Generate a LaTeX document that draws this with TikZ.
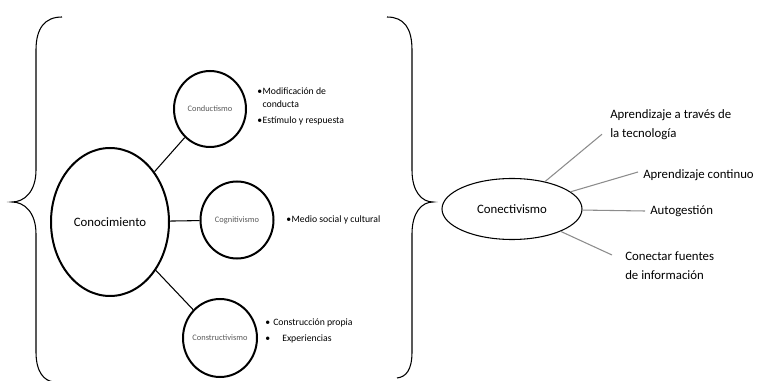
\documentclass[tikz,border=0pt]{standalone}
\usepackage{fontspec}
\setmainfont{Carlito}
\usetikzlibrary{positioning, shapes.geometric, calc}

\begin{document}
\begin{tikzpicture}[
    x=0.75pt, y=-0.75pt,
    % ====================
    % ESTILOS DE NODOS
    % ====================
    teoria/.style={
        ellipse, draw=black, line width=1.5pt,
        inner sep=0pt, inner xsep=-2pt,
        font=\fontsize{6.3}{7.5}\selectfont, text=black!65
    },
    central/.style={
        ellipse, draw=black, line width=1.5pt,
        inner sep=0pt, font=\fontsize{9.6}{11}\selectfont
    },
    puntos/.style={
        inner sep=0pt, align=left,
        font=\fontsize{7.3}{9.75}\selectfont
    },
    idea/.style={
        inner sep=0pt, align=left,
        font=\fontsize{9.6}{14.25}\selectfont
    },
    llave/.style={
        draw=black, line width=0.8pt
    },
    enlace/.style={
        draw=black, line width=0.8pt
    },
    rayo/.style={
        draw=black!45, line width=0.8pt
    }
]

\useasboundingbox (0,0) rectangle (758,381);

% ====================
% LLAVES
% ====================
\draw[llave] (62,17) .. controls (45,17) and (36,28) .. (36,50) -- (36,170)
    .. controls (36,192) and (24,202) .. (12,202)
    .. controls (24,202) and (36,212) .. (36,234) -- (36,352)
    .. controls (36,372) and (44,381) .. (54,382);
\draw[llave] (387,17) .. controls (404,17) and (412,28) .. (412,50) -- (412,170)
    .. controls (412,192) and (422,202) .. (433,202)
    .. controls (422,202) and (412,212) .. (412,234) -- (412,352)
    .. controls (412,370) and (406,377) .. (397,378);

% ====================
% NODOS - TEORIAS
% ====================
\node[central, minimum width=88.5pt, minimum height=111pt] (conoc) at (110,222) {Conocimiento};
\node[teoria, minimum width=54pt, minimum height=57pt] (conduc) at (210,109) {Conductismo};
\node[teoria, minimum width=54.75pt, minimum height=57.75pt] (cognit) at (237,220) {Cognitivismo};
\node[teoria, minimum width=55.5pt, minimum height=58.5pt] (constr) at (220,338) {Constructivismo};

% Caracteristicas
\node[puntos, anchor=north west] (conduc_t) at (257,87)
    {\makebox[4pt][l]{\textbullet}Modificación de\\\hspace{4pt}conducta\\[2.25pt]\makebox[4pt][l]{\textbullet}Estímulo y respuesta};
\node[puntos, anchor=west] (cognit_t) at (286,220)
    {\makebox[4pt][l]{\textbullet}Medio social y cultural};
\node[puntos, anchor=north west, font=\fontsize{7.3}{12}\selectfont] (constr_t) at (265,319)
    {\makebox[6pt][l]{\textbullet}Construcción propia\\\makebox[12.75pt][l]{\textbullet}Experiencias};

% ====================
% NODOS - CONECTIVISMO
% ====================
\node[central, line width=0.8pt, minimum width=105pt, minimum height=45.75pt] (conect) at (512,209) {Conectivismo};

\node[idea, anchor=north west] (tecno) at (610,109.6) {Aprendizaje a través de\\la tecnología};
\node[idea, anchor=west] (contin) at (643,175) {Aprendizaje continuo};
\node[idea, anchor=west] (autog) at (650,211) {Autogestión};
\node[idea, anchor=north west] (fuentes) at (625,251.6) {Conectar fuentes\\de información};

% ====================
% RUTAS
% ====================
\draw[enlace] (conoc) -- (conduc);
\draw[enlace] (conoc) -- (cognit);
\draw[enlace] (conoc) -- (constr);

\draw[rayo] (conect) -- ($(tecno.south west)+(-8,-6)$);
\draw[rayo] (conect) -- ($(contin.west)+(-5,-3)$);
\draw[rayo] (conect) -- ($(autog.west)+(-5,0)$);
\draw[rayo] (conect) -- ($(fuentes.north west)+(-13,3.4)$);

\end{tikzpicture}
\end{document}
